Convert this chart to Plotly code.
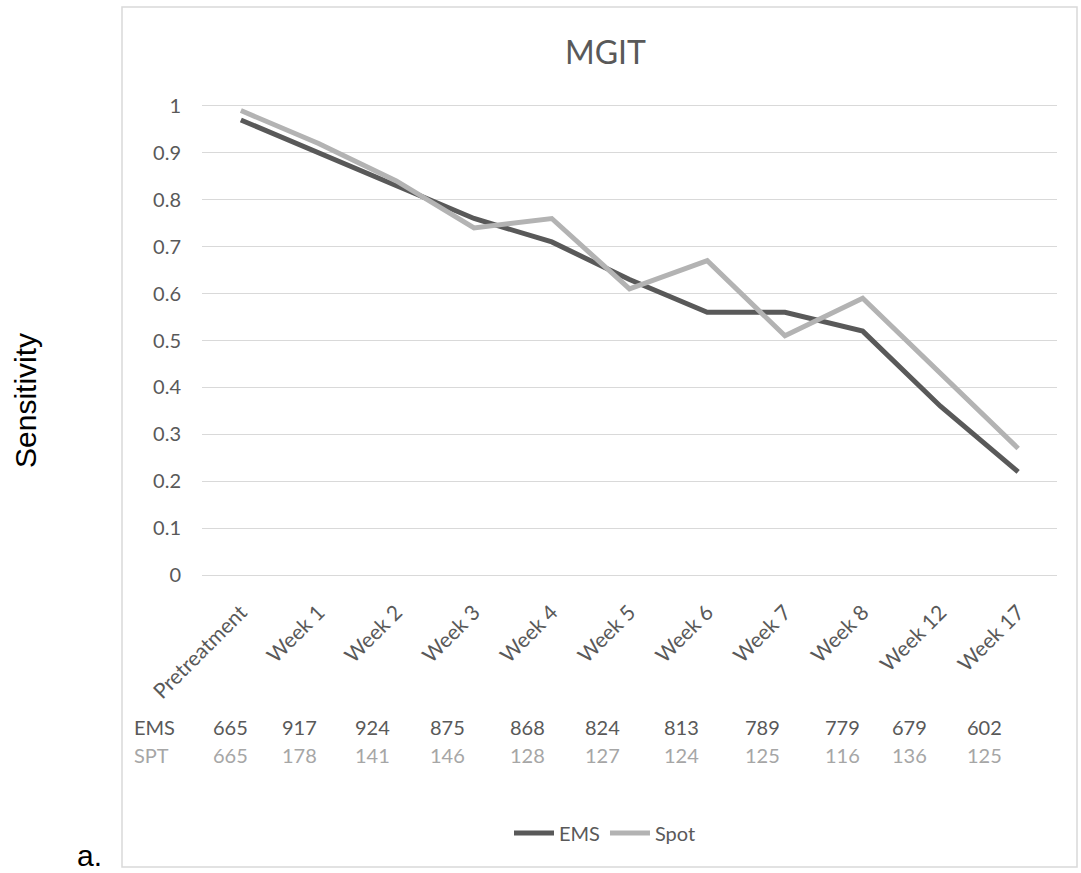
import plotly.graph_objects as go

# ---------------- data ----------------
categories = ["Pretreatment", "Week 1", "Week 2", "Week 3", "Week 4", "Week 5",
              "Week 6", "Week 7", "Week 8", "Week 12", "Week 17"]
ems_sensitivity = [0.97, 0.90, 0.83, 0.76, 0.71, 0.63, 0.56, 0.56, 0.52, 0.36, 0.22]
spot_sensitivity = [0.99, 0.92, 0.84, 0.74, 0.76, 0.61, 0.67, 0.51, 0.59, 0.43, 0.27]
ems_counts = [665, 917, 924, 875, 868, 824, 813, 789, 779, 679, 602]
spt_counts = [665, 178, 141, 146, 128, 127, 124, 125, 116, 136, 125]
y_ticks = [0, 0.1, 0.2, 0.3, 0.4, 0.5, 0.6, 0.7, 0.8, 0.9, 1]

# ---------------- layout geometry (pixels) ----------------
W, H = 1081, 873
PL, PR, PT, PB = 202, 1057, 104, 577  # plot area edges
PW, PH = PR - PL, PB - PT


def px(x):
    return (x - PL) / PW


def py(y):
    return (PB - y) / PH


TABLE_X = [230, 299, 372, 447, 527, 602, 681, 762, 842, 909, 984]

DARK = "#595959"
LIGHT = "#b3b3b3"
TXT = "#595959"
GRID = "#d9d9d9"
FONT = "Lato"

fig = go.Figure()
fig.add_trace(go.Scatter(x=categories, y=ems_sensitivity, mode="lines", name="EMS",
                         line=dict(color=DARK, width=5)))
fig.add_trace(go.Scatter(x=categories, y=spot_sensitivity, mode="lines", name="Spot",
                         line=dict(color=LIGHT, width=5)))

annotations = [
    dict(text="MGIT", x=px(605), y=py(51), xref="paper", yref="paper",
         showarrow=False, font=dict(family=FONT, size=32, color=TXT),
         xanchor="center", yanchor="middle"),
    dict(text="Sensitivity", x=px(25), y=py(401), xref="paper", yref="paper",
         showarrow=False, textangle=-90,
         font=dict(family="Liberation Sans, Arial", size=30, color="#000000"),
         xanchor="center", yanchor="middle"),
    dict(text="a.", x=px(90), y=py(855), xref="paper", yref="paper",
         showarrow=False, font=dict(family="Liberation Sans, Arial", size=30, color="#000000"),
         xanchor="center", yanchor="middle"),
    dict(text="EMS", x=px(132), y=py(727), xref="paper", yref="paper",
         showarrow=False, font=dict(family=FONT, size=20, color=TXT),
         xanchor="left", yanchor="middle"),
    dict(text="SPT", x=px(132), y=py(755), xref="paper", yref="paper",
         showarrow=False, font=dict(family=FONT, size=20, color="#a6a6a6"),
         xanchor="left", yanchor="middle"),
]
for xp, e, s in zip(TABLE_X, ems_counts, spt_counts):
    annotations.append(dict(text=str(e), x=px(xp), y=py(727), xref="paper", yref="paper",
                            showarrow=False, font=dict(family=FONT, size=20, color=TXT),
                            xanchor="center", yanchor="middle"))
    annotations.append(dict(text=str(s), x=px(xp), y=py(755), xref="paper", yref="paper",
                            showarrow=False, font=dict(family=FONT, size=20, color="#a6a6a6"),
                            xanchor="center", yanchor="middle"))

shapes = [
    dict(type="rect", xref="paper", yref="paper",
         x0=px(122), x1=px(1077), y0=py(867), y1=py(7),
         line=dict(color=GRID, width=1.5), fillcolor="rgba(0,0,0,0)", layer="below"),
]

fig.update_layout(
    width=W, height=H,
    margin=dict(l=PL, r=W - PR, t=PT, b=H - PB, pad=0),
    paper_bgcolor="white", plot_bgcolor="white",
    font=dict(family=FONT, color=TXT),
    showlegend=True,
    legend=dict(orientation="h", x=px(605), y=py(833), xanchor="center", yanchor="middle",
                font=dict(family=FONT, size=20, color=TXT), itemwidth=40,
                bgcolor="rgba(0,0,0,0)"),
    annotations=annotations,
    shapes=shapes,
    xaxis=dict(type="category", range=[-0.5, len(categories) - 0.5], showgrid=False,
               showline=False, zeroline=False, tickangle=-45,
               tickfont=dict(family=FONT, size=21, color=TXT), ticks="",
               ticklabelstandoff=18),
    yaxis=dict(range=[-0.004, 1.004], tickvals=y_ticks, ticktext=[f"{v:g}" for v in y_ticks],
               showgrid=True, gridcolor=GRID, gridwidth=1.3, zeroline=False,
               showline=False, ticks="", ticklabelstandoff=20,
               tickfont=dict(family=FONT, size=20, color=TXT)),
)

fig.write_html("out.html", config={"displayModeBar": False},
               post_script="document.body.style.margin='0';document.body.style.padding='0';")
